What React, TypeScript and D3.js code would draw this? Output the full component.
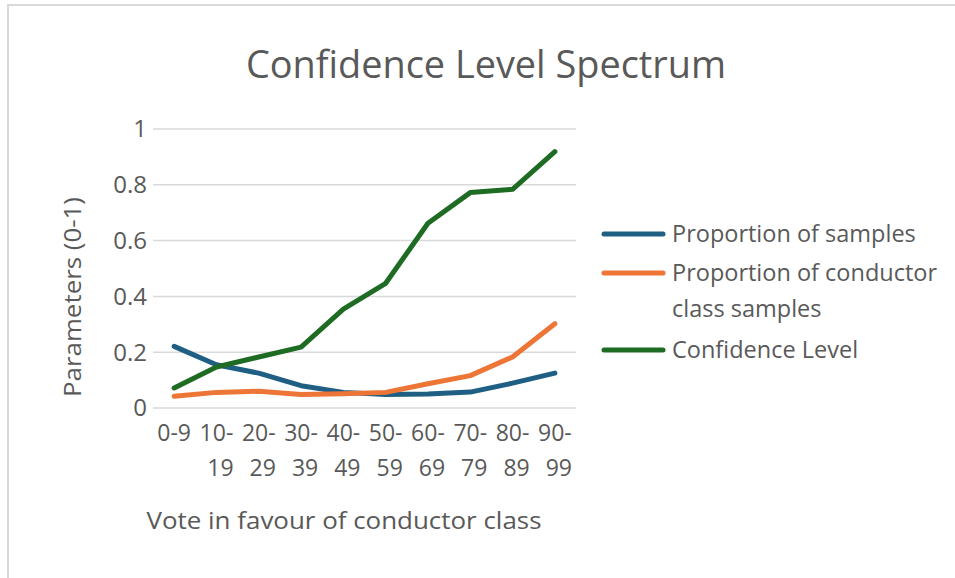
import React from 'react';
import * as d3 from 'd3';

const categories = ['0-9', '10-19', '20-29', '30-39', '40-49', '50-59', '60-69', '70-79', '80-89', '90-99'];
const proportionSamples = [0.221, 0.155, 0.125, 0.08, 0.056, 0.048, 0.05, 0.057, 0.089, 0.125];
const proportionConductor = [0.042, 0.056, 0.06, 0.048, 0.051, 0.056, 0.087, 0.116, 0.183, 0.302];
const confidenceLevel = [0.072, 0.147, 0.183, 0.218, 0.354, 0.447, 0.662, 0.772, 0.784, 0.919];
const yTicks = [0, 0.2, 0.4, 0.6, 0.8, 1];

const series = [
  { name: ['Proportion of samples'], values: proportionSamples, color: '#1f5f84' },
  { name: ['Proportion of conductor', 'class samples'], values: proportionConductor, color: '#ed7536' },
  { name: ['Confidence Level'], values: confidenceLevel, color: '#1e6b24' },
];

const width = 955;
const height = 578;
const font = '"Open Sans", "Noto Sans", sans-serif';
const textColor = '#595959';

const App: React.FC = () => {
  // plot area
  const left = 153;
  const right = 576;
  const top = 129;
  const bottom = 408;

  const x = d3.scaleBand<string>().domain(categories).range([left, right]);
  const y = d3.scaleLinear().domain([0, 1]).range([bottom, top]);

  const line = d3.line<number>()
    .x((_, i) => (x(categories[i]) as number) + x.bandwidth() / 2)
    .y(d => y(d));

  // legend rows (y of the swatch line)
  const legendY = [234, 273, 350];

  return (
    <svg width={width} height={height} style={{ position: 'absolute', left: 0, top: 0 }}>
      <rect x={0} y={0} width={width} height={height} fill="#fff" />
      <rect x={8} y={5} width={width + 10} height={height + 10} fill="none" stroke="#d9d9d9" strokeWidth={2} />

      <text x={486} y={78} textAnchor="middle" fontFamily={font} fontSize={39} fill={textColor}
        textLength={480} lengthAdjust="spacingAndGlyphs">
        Confidence Level Spectrum
      </text>

      {yTicks.map(t => (
        <g key={t}>
          <line x1={left} x2={right} y1={y(t)} y2={y(t)} stroke="#d9d9d9" strokeWidth={1.5} />
          <text x={left - 6} y={y(t)} dy="0.35em" textAnchor="end" fontFamily={font} fontSize={24} fill={textColor}>
            {d3.format('~g')(t)}
          </text>
        </g>
      ))}

      {categories.map(c => {
        const cx = (x(c) as number) + x.bandwidth() / 2;
        const parts = c === '0-9' ? [c] : [c.split('-')[0] + '-', c.split('-')[1]];
        return (
          <text key={c} x={cx} y={441} textAnchor="middle" fontFamily={font} fontSize={23} fill={textColor}>
            {parts.map((p, i) => (
              <tspan key={i} x={cx + (i === 1 ? 4 : 0)} dy={i === 0 ? 0 : 35}>{p}</tspan>
            ))}
          </text>
        );
      })}

      <text x={344} y={529} textAnchor="middle" fontFamily={font} fontSize={24} fill={textColor}
        textLength={395} lengthAdjust="spacingAndGlyphs">
        Vote in favour of conductor class
      </text>

      <text transform={`translate(81, 297) rotate(-90)`} textAnchor="middle"
        fontFamily={font} fontSize={24} fill={textColor} textLength={200} lengthAdjust="spacingAndGlyphs">
        Parameters (0-1)
      </text>

      {series.map(s => (
        <path key={s.name[0]} d={line(s.values) || ''} fill="none" stroke={s.color} strokeWidth={5}
          strokeLinejoin="round" strokeLinecap="round" />
      ))}

      {series.map((s, i) => (
        <g key={'leg' + i}>
          <line x1={604} x2={663} y1={legendY[i]} y2={legendY[i]} stroke={s.color} strokeWidth={5} strokeLinecap="round" />
          <text x={672} y={legendY[i]} fontFamily={font} fontSize={23.5} fill={textColor}>
            {s.name.map((n, j) => (
              <tspan key={j} x={672} dy={j === 0 ? '0.35em' : 36}>{n}</tspan>
            ))}
          </text>
        </g>
      ))}
    </svg>
  );
};

export default App;
